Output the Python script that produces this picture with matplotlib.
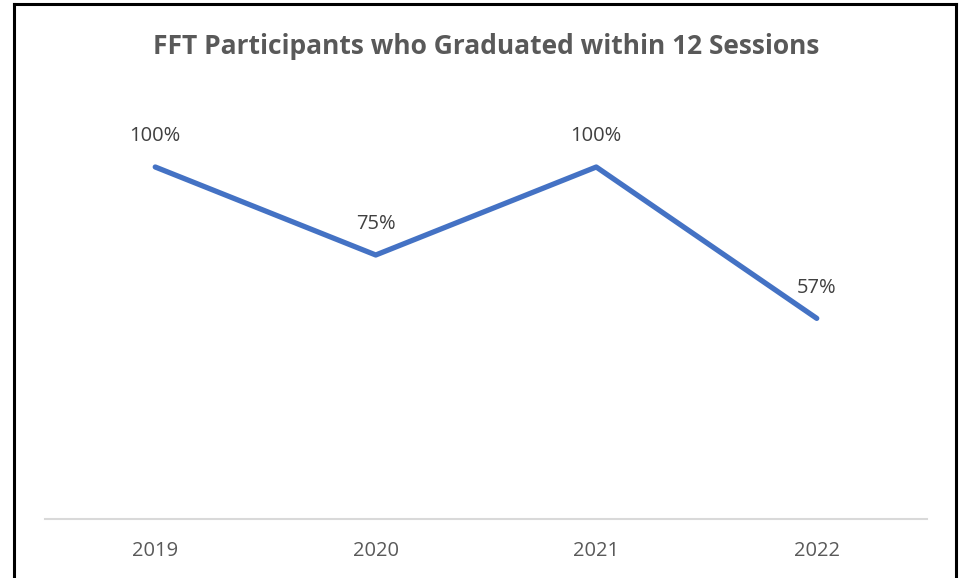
import matplotlib.pyplot as plt
from matplotlib.lines import Line2D

years = ["2019", "2020", "2021", "2022"]
graduated_pct = [100, 75, 100, 57]

W, H = 963, 578
fig = plt.figure(figsize=(W / 100, H / 100), dpi=100)
plt.rcParams['font.family'] = ['Open Sans', 'DejaVu Sans']

# axes box in pixels: x 45..927, y (0%) at 519, 120% at ~97
left, right = 45, 927
y0 = 519
px_per_pct = 3.52
ymax = 120
top = y0 - ymax * px_per_pct
ax = fig.add_axes([left / W, (H - y0) / H, (right - left) / W, (y0 - top) / H])

x = list(range(len(years)))
ax.plot(x, graduated_pct, color="#4472C4", lw=3.8,
        solid_capstyle="round", solid_joinstyle="round")

for xi, v in zip(x, graduated_pct):
    ax.annotate(f"{v}%", (xi, v), xytext=(0, 15), textcoords="offset points",
                ha="center", va="bottom", fontsize=14.5, color="#404040")

ax.set_xlim(-0.5, len(years) - 0.5)
ax.set_ylim(0, ymax)
ax.set_xticks(x)
ax.set_xticklabels(years, fontsize=14.5, color="#595959")
ax.tick_params(axis="x", length=0, pad=16)
ax.set_yticks([])
for s in ["top", "left", "right"]:
    ax.spines[s].set_visible(False)
ax.spines["bottom"].set_color("#D9D9D9")
ax.spines["bottom"].set_linewidth(1.5)

fig.text(486 / W, 1 - 47 / H, "FFT Participants who Graduated within 12 Sessions",
         ha="center", va="center", fontsize=19, fontweight="bold", color="#595959")

# outer black frame (no bottom edge)
def px(xp, yp):
    return xp / W, 1 - yp / H

for (xa, ya), (xb, yb) in [((14, H + 5), (14, 4)), ((14, 4), (956, 4)), ((956, 4), (956, H + 5))]:
    (fx0, fy0), (fx1, fy1) = px(xa, ya), px(xb, yb)
    fig.add_artist(Line2D([fx0, fx1], [fy0, fy1], color="black", lw=2.2,
                          solid_joinstyle="miter", transform=fig.transFigure))

fig.savefig("out.png", dpi=100, facecolor="white")
